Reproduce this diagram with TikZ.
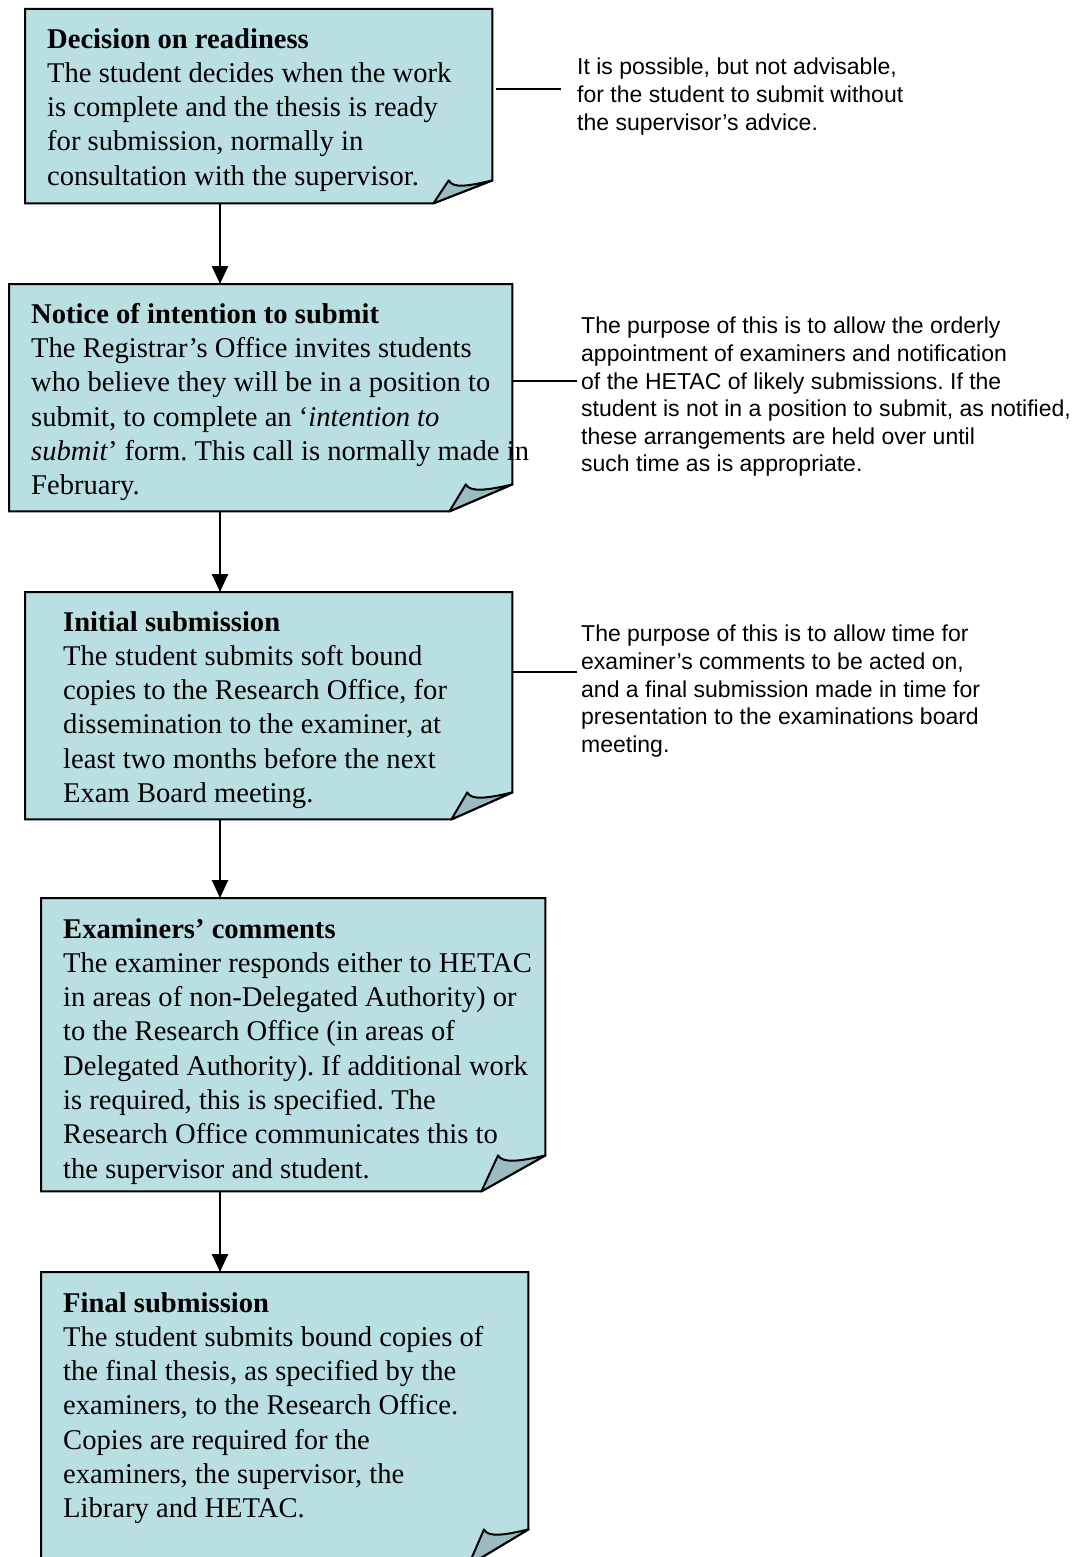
\documentclass[tikz,border=0pt]{standalone}
\usepackage{fontspec}
\setmainfont{Liberation Serif}
\newfontfamily\notefont{Liberation Sans}
\usetikzlibrary{calc,positioning,arrows.meta}
\definecolor{sheetfill}{RGB}{186,223,227}
\definecolor{flapfill}{RGB}{154,187,191}
\frenchspacing
\tikzset{
  sheet/.style={rectangle,inner sep=0,anchor=north west},
  sheettext/.style={inner sep=0,anchor=north west,align=left,font={\fontsize{28.6}{34.3}\selectfont}},
  sidetext/.style={inner sep=0,anchor=north west,align=left,font={\notefont\fontsize{23}{27.6}\selectfont}},
  flow/.style={line width=2.5pt,-{Triangle[width=16pt,length=18pt]}},
  sideline/.style={line width=1.6pt},
}
\begin{document}
\begin{tikzpicture}[x=1pt,y=-1pt]
\useasboundingbox (0,0) rectangle (1080,1557);
\clip (0,0) rectangle (1080,1557);
\node[sheet,minimum width=467pt,minimum height=194pt] (b1) at (25,9) {};
\node[sheet,minimum width=503pt,minimum height=227pt] (b2) at (9,284) {};
\node[sheet,minimum width=487pt,minimum height=227pt] (b3) at (25,592) {};
\node[sheet,minimum width=504pt,minimum height=293pt] (b4) at (41,898) {};
\node[sheet,minimum width=487pt,minimum height=293pt] (b5) at (41,1272) {};
\foreach \b/\fx/\fy in {b1/59/23, b2/63/27, b3/61/27, b4/64/36, b5/60/36} {
  \coordinate (p) at ($(\b.south east)+(0,-\fy)$);
  \coordinate (q) at ($(\b.south east)+(-\fx,0)$);
  \coordinate (t) at ($(q)+(0.26*\fx,-\fy)$);
  \draw[line width=2pt,fill=sheetfill] (\b.north west) -- (\b.north east) -- (p) -- (q) -- (\b.south west) -- cycle;
  \draw[line width=2pt,fill=flapfill,line join=round] (q) -- (t) .. controls ($(t)+(4,8)$) and ($(p)+(-25,6)$) .. (p) -- cycle;
}
\coordinate (spine) at (220,0);
\foreach \u/\v in {b1/b2,b2/b3,b3/b4,b4/b5}
  \draw[flow] (\u.south -| spine) -- (\v.north -| spine);
\node[sheettext] (t1) at ([shift={(22,19)}]b1.north west) {\textbf{Decision on readiness}\\
The student decides when the work\\
is complete and the thesis is ready\\
for submission, normally in\\
consultation with the supervisor.};
\node[sheettext] (t2) at ([shift={(22,19)}]b2.north west) {\textbf{Notice of intention to submit}\\
The Registrar’s Office invites students\\
who believe they will be in a position to\\
submit, to complete an ‘\textit{intention to}\\
\textit{submit}’ form. This call is normally made in\\
February.};
\node[sheettext] (t3) at ([shift={(38,19)}]b3.north west) {\textbf{Initial submission}\\
The student submits soft bound\\
copies to the Research Office, for\\
dissemination to the examiner, at\\
least two months before the next\\
Exam Board meeting.};
\node[sheettext] (t4) at ([shift={(22,20)}]b4.north west) {\textbf{Examiners’ comments}\\
The examiner responds either to HETAC\\
in areas of non-Delegated Authority) or\\
to the Research Office (in areas of\\
Delegated Authority). If additional work\\
is required, this is specified. The\\
Research Office communicates this to\\
the supervisor and student.};
\node[sheettext] (t5) at ([shift={(22,20)}]b5.north west) {\textbf{Final submission}\\
The student submits bound copies of\\
the final thesis, as specified by the\\
examiners, to the Research Office.\\
Copies are required for the\\
examiners, the supervisor, the\\
Library and HETAC.};
\node[sidetext] (n1) at (577,58) {It is possible, but not advisable,\\
for the student to submit without\\
the supervisor’s advice.};
\node[sidetext] (n2) at (581,317) {The purpose of this is to allow the orderly\\
appointment of examiners and notification\\
of the HETAC of likely submissions. If the\\
student is not in a position to submit, as notified,\\
these arrangements are held over until\\
such time as is appropriate.};
\node[sidetext] (n3) at (581,625) {The purpose of this is to allow time for\\
examiner’s comments to be acted on,\\
and a final submission made in time for\\
presentation to the examinations board\\
meeting.};
\coordinate (c1) at (561,89);
\coordinate (c2) at (577,381);
\coordinate (c3) at (577,672);
\draw[sideline] ($(b1.east |- c1)+(4,0)$) -- (c1);
\draw[sideline] (b2.east |- c2) -- (c2);
\draw[sideline] (b3.east |- c3) -- (c3);
\end{tikzpicture}
\end{document}
